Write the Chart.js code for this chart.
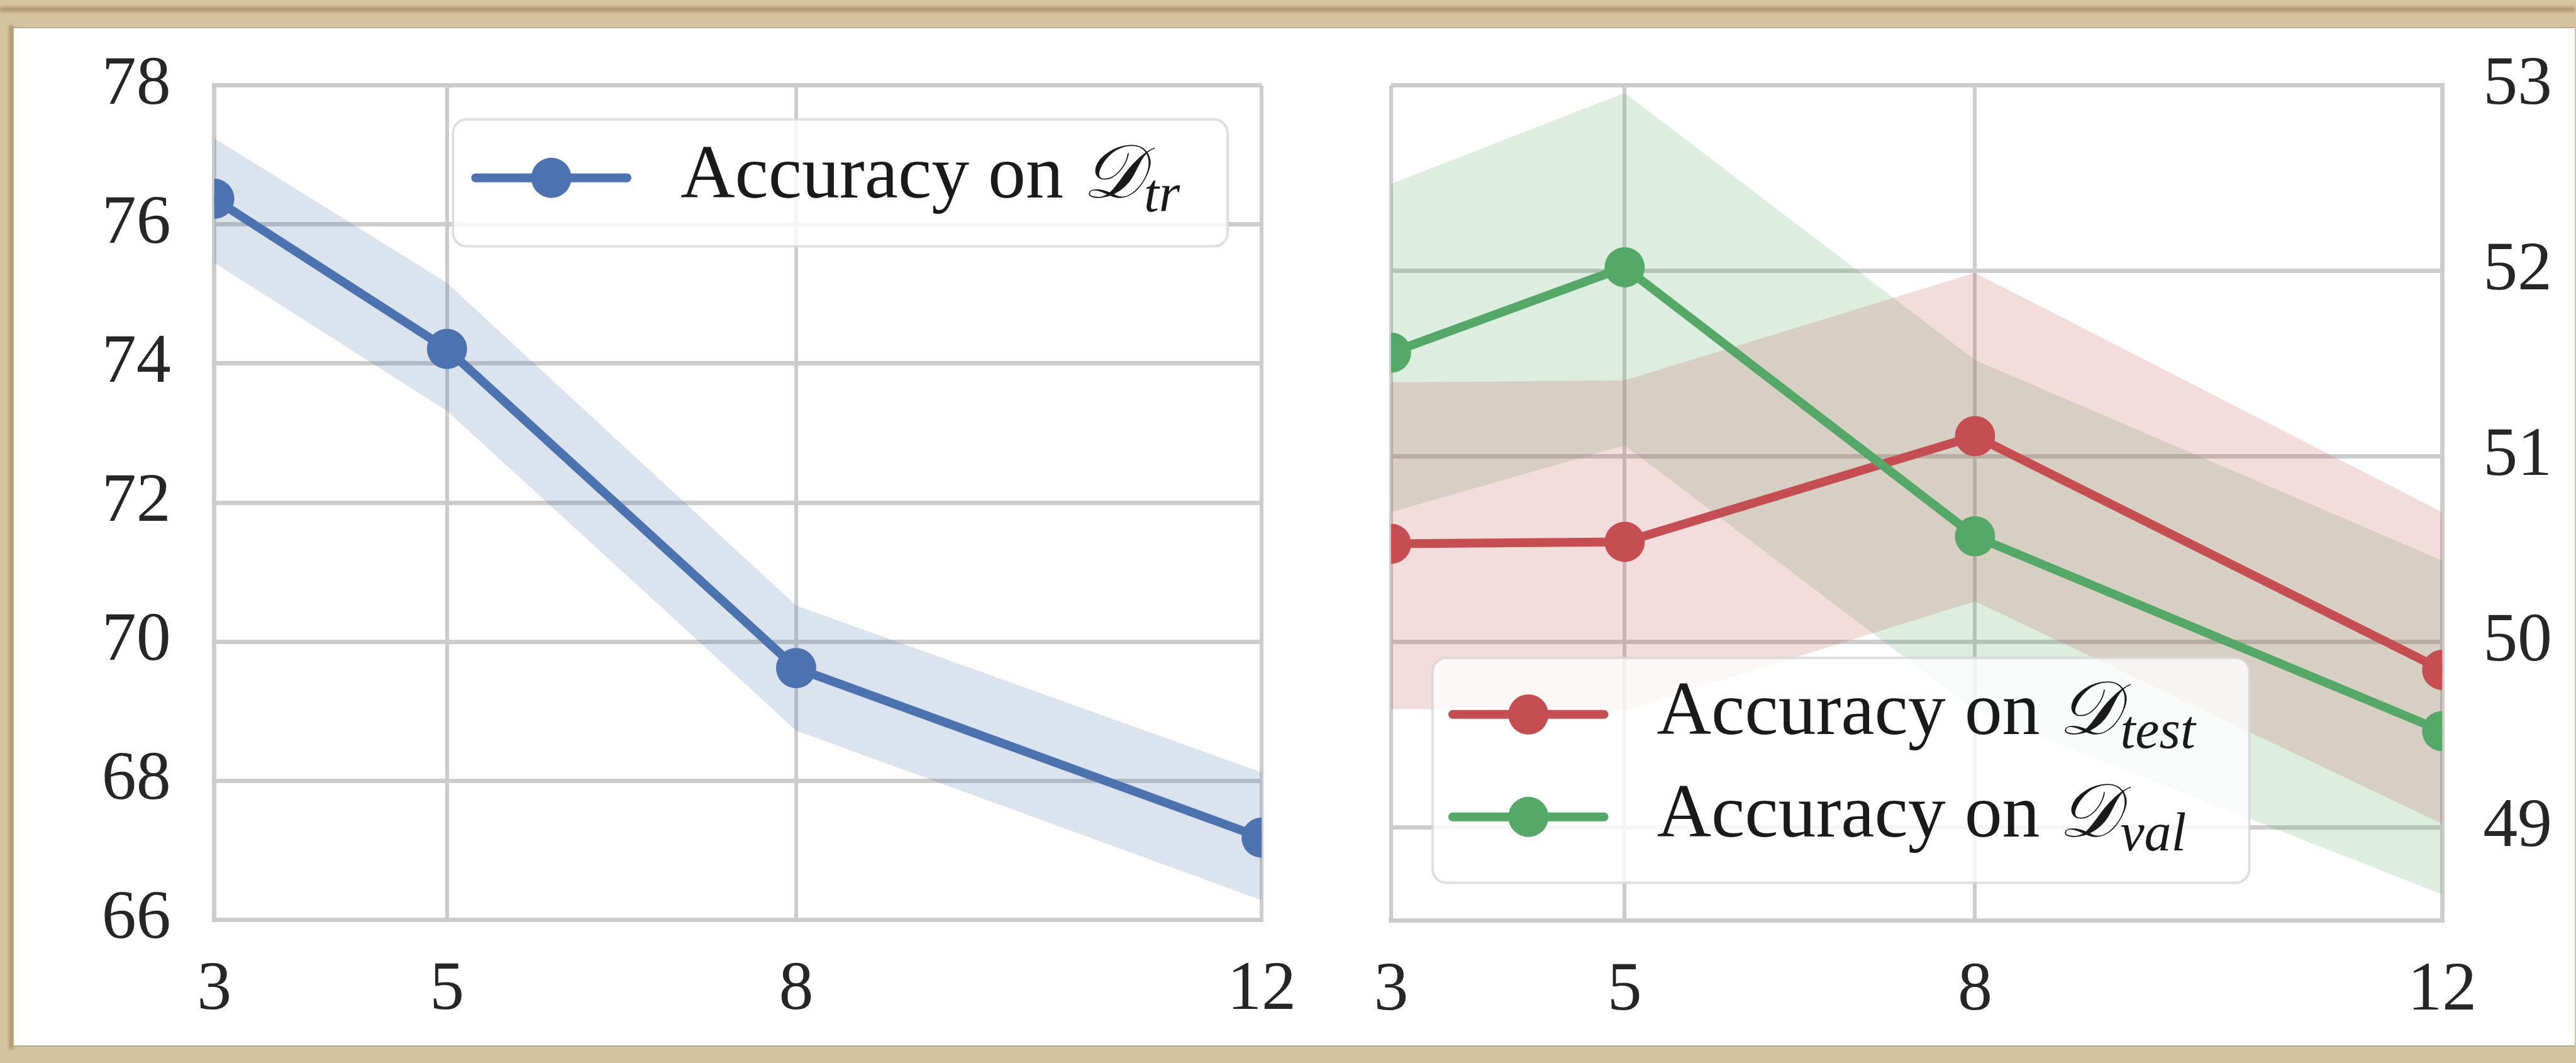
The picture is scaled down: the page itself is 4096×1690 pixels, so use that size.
<!DOCTYPE html>
<html>
<head>
<meta charset="utf-8">
<title>Accuracy vs. number of steps</title>
<script src="https://cdn.jsdelivr.net/npm/chart.js@4.4.1/dist/chart.umd.min.js"></script>
<style>
  html, body { margin: 0; padding: 0; width: 4096px; height: 1690px; overflow: hidden; background: #d6c3a0; }
  .abs { position: absolute; }
  canvas { position: absolute; }
</style>
</head>
<body>
<div id="edgeTop" class="abs"></div>
<div id="edgeLeft" class="abs"></div>
<div id="paper" class="abs"></div>
<canvas id="trainChart"></canvas>
<canvas id="evalChart"></canvas>
<script>
// drawing scale: layout numbers below are in base units, multiplied by S
const S = 0.999;
const px = v => v * S;

// ---- data ----
const steps = [3, 5, 8, 12];
const xTickValues = [3, 5, 8, 12];

const trainMean  = [76.37, 74.21, 69.62, 67.18];
const trainUpper = [77.24, 75.16, 70.52, 68.12];
const trainLower = [75.45, 73.32, 68.72, 66.28];

const testMean  = [50.53, 50.54, 51.11, 49.85];
const testUpper = [51.40, 51.41, 51.99, 50.70];
const testLower = [49.64, 49.63, 50.22, 49.02];

const valMean  = [51.56, 52.02, 50.57, 49.52];
const valUpper = [52.47, 52.96, 51.52, 50.44];
const valLower = [50.70, 51.06, 49.63, 48.64];

const leftYTicks  = [66, 68, 70, 72, 74, 76, 78];
const rightYTicks = [49, 50, 51, 52, 53];

const labelPrefix = 'Accuracy on ';
const labelSymbol = '\u{1D49F}';
const subTrain = 'tr';
const subTest = 'test';
const subVal = 'val';

// ---- colours ----
const BLUE = '#4C72B0', RED = '#C44E52', GREEN = '#55A868';
const BLUE_FILL = 'rgba(76,114,176,0.2)';
const RED_FILL = 'rgba(196,78,82,0.2)';
const GREEN_FILL = 'rgba(85,168,104,0.2)';
const GRID = '#cccccc';
const TEXT = '#262626';
const SERIF = '"Liberation Serif", "DejaVu Serif", serif';

// ---- page frame ----
function place(id, x, y, w, h, style) {
  const el = document.getElementById(id);
  Object.assign(el.style, { left: px(x) + 'px', top: px(y) + 'px', width: px(w) + 'px', height: px(h) + 'px' }, style || {});
}
place('edgeTop', 0, 11, 4098, 8, { background: '#a58d62', filter: 'blur(2px)', opacity: '0.75' });
place('edgeLeft', 14, 40, 8, 1630, { background: '#a58d62', filter: 'blur(2px)', opacity: '0.75' });
place('paper', 22, 43, 4076, 1623, { background: '#ffffff', borderTop: '2px solid #b8ad99', borderBottom: '2px solid #b0a898', boxSizing: 'border-box' });

const pts = (ys) => steps.map((x, i) => ({ x, y: ys[i] }));

function bandPair(upper, lower, fill) {
  return [
    { data: pts(upper), borderWidth: 0, pointRadius: 0, pointHoverRadius: 0, fill: false, order: 5 },
    { data: pts(lower), borderWidth: 0, pointRadius: 0, pointHoverRadius: 0, fill: '-1', backgroundColor: fill, order: 5 }
  ];
}

function meanLine(values, color, sub, order) {
  return {
    data: pts(values), sub,
    borderColor: color, backgroundColor: color,
    borderWidth: px(14), borderJoinStyle: 'round', borderCapStyle: 'round',
    pointRadius: px(32), pointHoverRadius: px(32), pointBorderWidth: 0,
    pointBackgroundColor: color, fill: false, clip: 0, order
  };
}

// legend drawn from the datasets that carry a subscript label
const bandLegend = {
  id: 'bandLegend',
  afterDraw(chart, args, o) {
    const ctx = chart.ctx;
    ctx.save();
    const bx = px(o.box[0]), by = px(o.box[1]), bw = px(o.box[2]), bh = px(o.box[3]);
    ctx.beginPath();
    ctx.roundRect(bx, by, bw, bh, px(22));
    ctx.fillStyle = 'rgba(255,255,255,0.8)';
    ctx.fill();
    ctx.lineWidth = px(4);
    ctx.strokeStyle = 'rgba(215,215,215,0.8)';
    ctx.stroke();

    o.rows.forEach((row) => {
      const ds = chart.data.datasets[row.dataset];
      const y = px(row.y);
      ctx.strokeStyle = ds.borderColor;
      ctx.lineWidth = ds.borderWidth;
      ctx.lineCap = 'round';
      ctx.beginPath();
      ctx.moveTo(px(o.lineX0), y);
      ctx.lineTo(px(o.lineX1), y);
      ctx.stroke();
      ctx.fillStyle = ds.pointBackgroundColor;
      ctx.beginPath();
      ctx.arc(px((o.lineX0 + o.lineX1) / 2), y, ds.pointRadius, 0, Math.PI * 2);
      ctx.fill();

      const base = y + px(31);
      let x = px(o.textX);
      ctx.fillStyle = '#1a1a1a';
      ctx.textBaseline = 'alphabetic';
      ctx.textAlign = 'left';
      ctx.font = `${px(120)}px ${SERIF}`;
      ctx.fillText(labelPrefix, x, base);
      x += ctx.measureText(labelPrefix).width;
      ctx.font = `italic ${px(120)}px ${SERIF}`;
      ctx.fillText(labelSymbol, x, base);
      x += ctx.measureText(labelSymbol).width + px(2);
      ctx.font = `italic ${px(86)}px ${SERIF}`;
      ctx.fillText(ds.sub, x, base + px(22));
    });
    ctx.restore();
  }
};

function fixedTicks(values) {
  return (axis) => { axis.ticks = values.map(v => ({ value: v })); };
}

function xScale(height) {
  return {
    type: 'linear', min: 3, max: 12,
    afterBuildTicks: fixedTicks(xTickValues),
    afterFit: (a) => { a.height = px(height); },
    grid: { color: GRID, lineWidth: px(6), drawTicks: false },
    border: { display: true, color: GRID, width: px(7) },
    ticks: { autoSkip: false, maxRotation: 0, padding: px(47), color: TEXT, font: { family: SERIF, size: px(110) } }
  };
}

function yScale(position, min, max, ticks, width, pad) {
  return {
    type: 'linear', position, min, max,
    afterBuildTicks: fixedTicks(ticks),
    afterFit: (a) => { a.width = px(width); },
    grid: { color: GRID, lineWidth: px(7), drawTicks: false },
    border: { display: true, color: GRID, width: px(7) },
    ticks: { padding: px(pad), color: TEXT, font: { family: SERIF, size: px(110) } }
  };
}

function setupCanvas(id, x, w, h) {
  const c = document.getElementById(id);
  c.width = Math.round(px(w));
  c.height = Math.round(px(h));
  c.style.left = px(x) + 'px';
  c.style.top = '0px';
  c.style.width = c.width + 'px';
  c.style.height = c.height + 'px';
  return c;
}

const common = {
  responsive: false,
  animation: false,
  devicePixelRatio: 1,
  events: [],
  plugins: {
    legend: { display: false },
    tooltip: { enabled: false },
    filler: { drawTime: 'beforeDatasetsDraw' }
  }
};

// left panel: accuracy on the training split
new Chart(setupCanvas('trainChart', 0, 2110, 1691), {
  type: 'line',
  data: {
    datasets: [
      ...bandPair(trainUpper, trainLower, BLUE_FILL),
      meanLine(trainMean, BLUE, subTrain, 0)
    ]
  },
  options: {
    ...common,
    layout: { padding: { top: px(136), right: px(99), left: 0, bottom: 0 } },
    scales: {
      x: xScale(227),
      y: yScale('left', 66, 78, leftYTicks, 341, 69)
    },
    plugins: {
      ...common.plugins,
      bandLegend: { box: [721, 190, 1233, 202], lineX0: 757, lineX1: 998, textX: 1083, rows: [{ dataset: 2, y: 283 }] }
    }
  },
  plugins: [bandLegend]
});

// right panel: accuracy on the test and validation splits
new Chart(setupCanvas('evalChart', 2110, 1988, 1691), {
  type: 'line',
  data: {
    datasets: [
      ...bandPair(testUpper, testLower, RED_FILL),
      ...bandPair(valUpper, valLower, GREEN_FILL),
      meanLine(testMean, RED, subTest, 1),
      meanLine(valMean, GREEN, subVal, 0)
    ]
  },
  options: {
    ...common,
    layout: { padding: { top: px(136), left: px(104), right: 0, bottom: 0 } },
    scales: {
      x: xScale(226),
      y: yScale('right', 48.5, 53, rightYTicks, 211, 65)
    },
    plugins: {
      ...common.plugins,
      bandLegend: { box: [170, 1047, 1300, 358], lineX0: 202, lineX1: 443, textX: 527, rows: [{ dataset: 4, y: 1137 }, { dataset: 5, y: 1300 }] }
    }
  },
  plugins: [bandLegend]
});
</script>
</body>
</html>
